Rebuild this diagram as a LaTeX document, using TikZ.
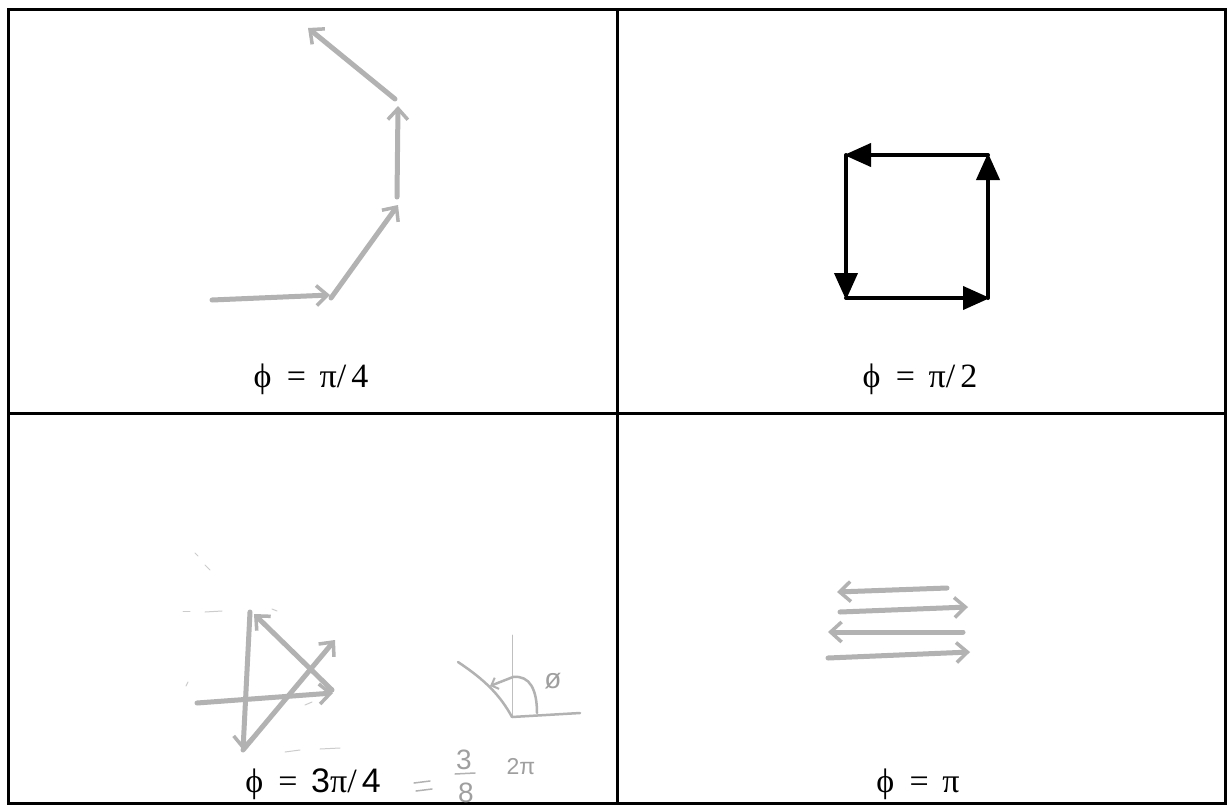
\documentclass[tikz,border=0pt]{standalone}
\usepackage{fontspec}
\setmainfont{Liberation Serif}
\newfontfamily\sansf{Liberation Sans}
\usetikzlibrary{arrows.meta}
\begin{document}
\begin{tikzpicture}[x=1pt,y=-1pt,
  frame/.style={line width=3pt,black},
  pencil/.style={line width=5pt,gray!60,line cap=round,line join=round,
     -{Straight Barb[length=11pt,width=20pt,line width=3.5pt]}},
  thinpencil/.style={line width=2.5pt,gray!60,line cap=round,line join=round},
  faint/.style={line width=1pt,gray!40,line cap=round},
  solidarrow/.style={line width=4pt,black,line cap=round,
     -{Triangle[length=27pt,width=23pt]}, shorten >=-2pt},
  label/.style={font=\fontsize{34}{36}\selectfont,anchor=base},
  hand/.style={font=\fontsize{28}{30}\sansf,text=gray!75,anchor=base}
]
\useasboundingbox (0,0) rectangle (1228,808);
\fill[white] (0,0) rectangle (1228,808);
% frame
\coordinate (tl) at (8,10);
\coordinate (tr) at (1225,10);
\coordinate (br) at (1225,803);
\coordinate (bl) at (8,803);
\coordinate (mt) at (617,10);
\coordinate (mb) at (617,803);
\coordinate (ml) at (8,413);
\coordinate (mr) at (1225,413);
\draw[frame] (tl) -- (tr) -- (br) -- (bl) -- cycle;
\draw[frame] (mt) -- (mb);
\draw[frame] (ml) -- (mr);

% panel 1 : phi = pi/4
\coordinate (a0) at (212,300);
\coordinate (a1) at (330,295);
\coordinate (a2) at (398,205);
\coordinate (a3) at (398,106);
\coordinate (a4) at (308,28);
\draw[pencil] (a0) -- (a1);
\draw[pencil] (331,298) -- (a2);
\draw[pencil] (397,197) -- (a3);
\draw[pencil] (395,99) -- (a4);
\node[label] (l1) at (311,387) {ϕ\hspace{0.45em}=\hspace{0.4em}π/\hspace{0.15em}4};

% panel 2 : phi = pi/2
\coordinate (s1) at (846,155);
\coordinate (s2) at (988,155);
\coordinate (s3) at (988,298);
\coordinate (s4) at (846,298);
\draw[solidarrow] (s2) -- (s1);
\draw[solidarrow] (s1) -- (s4);
\draw[solidarrow] (s4) -- (s3);
\draw[solidarrow] (s3) -- (s2);
\node[label] (l2) at (920,387) {ϕ\hspace{0.45em}=\hspace{0.4em}π/\hspace{0.15em}2};

% panel 3 : phi = 3pi/4
\draw[pencil] (250,612) -- (243,750);
\draw[pencil] (197,703) -- (333,693);
\draw[pencil] (243,750) -- (335,640);
\draw[pencil] (332,690) -- (254,614);
\draw[faint] (195,553) -- (198,556);
\draw[faint] (205,565) -- (210,570);
\draw[faint] (183,611) -- (190,611);
\draw[faint] (205,612) -- (222,611);
\draw[faint] (272,609) -- (277,611);
\draw[faint] (188,682) -- (186,686);
\draw[faint] (285,752) -- (300,750);
\draw[faint] (320,749) -- (340,748);
\draw[faint] (305,705) -- (312,702);
\node[label] (l3) at (313,792) {ϕ\hspace{0.45em}=\hspace{0.4em}{\sansf 3}π/\hspace{0.15em}{\sansf 4}};
% small angle sketch
\coordinate (o) at (512,717);
\draw[faint,gray!50] (512,635) -- (o);
\draw[thinpencil] (o) -- (580,713);
\draw[thinpencil] (458,662) .. controls (485,680) and (500,695) .. (o);
\draw[thinpencil,-{Straight Barb[length=6pt,width=12pt,line width=2pt]}] (537,713) .. controls (537,690) and (530,675) .. (513,677) -- (490,686);
\node[hand] (phi) at (553,688) {ø};
% handwritten = 3/8 2pi
\draw[thinpencil,line width=1.5pt] (414,783) -- (430,781);
\draw[thinpencil,line width=1.5pt] (416,791) -- (432,789);
\node[hand] (n3) at (464,769) {3};
\draw[thinpencil,line width=1.5pt] (455,774) -- (475,773);
\node[hand] (n8) at (466,802) {8};
\node[hand,font=\fontsize{23}{25}\sansf] (twopi) at (521,774) {2π};

% panel 4 : phi = pi
\draw[pencil] (947,588) -- (837,592);
\draw[pencil] (840,612) -- (968,607);
\draw[pencil] (963,632) -- (828,632);
\draw[pencil] (828,658) -- (970,652);
\node[label] (l4) at (918,792) {ϕ\hspace{0.45em}=\hspace{0.4em}π};
\end{tikzpicture}
\end{document}
